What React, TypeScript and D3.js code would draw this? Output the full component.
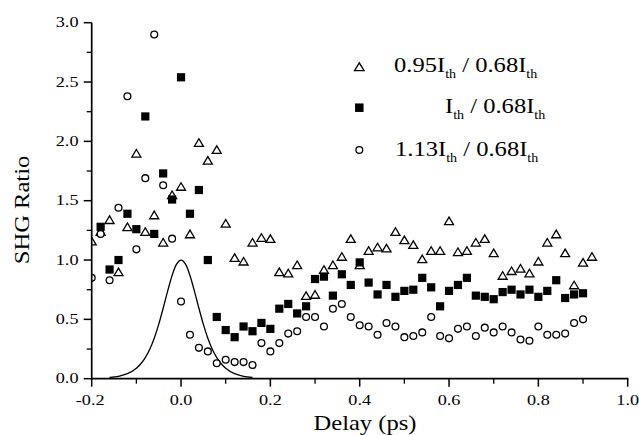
import React from "react";
import * as d3 from "d3";

const DELAY = [
  -0.2, -0.18, -0.16, -0.14, -0.12, -0.1, -0.08, -0.06, -0.04, -0.02,
  0.0, 0.02, 0.04, 0.06, 0.08, 0.1, 0.12, 0.14, 0.16, 0.18,
  0.2, 0.22, 0.24, 0.26, 0.28, 0.3, 0.32, 0.34, 0.36, 0.38,
  0.4, 0.42, 0.44, 0.46, 0.48, 0.5, 0.52, 0.54, 0.56, 0.58,
  0.6, 0.62, 0.64, 0.66, 0.68, 0.7, 0.72, 0.74, 0.76, 0.78,
  0.8, 0.82, 0.84, 0.86, 0.88, 0.9, 0.92,
];

// 0.95Ith / 0.68Ith (open triangles)
const SERIES_TRI: (number | null)[] = [
  1.16, 1.24, 1.34, 0.9, 1.28, 1.9, 1.24, 1.38, 1.15, 1.55,
  1.62, 1.22, 1.99, 1.84, 1.93, 1.31, 1.02, 0.99, 1.15, 1.19,
  1.18, 0.9, 0.89, 0.96, 0.7, 0.71, 0.92, 0.96, 1.03, 1.18,
  0.96, 1.08, 1.11, 1.1, 1.24, 1.17, 1.13, 1.01, 1.08, 1.08,
  1.33, 1.07, 1.08, 1.15, 1.18, 1.06, 0.87, 0.91, 0.93, 0.89,
  0.99, 1.15, 1.22, 1.06, 0.79, 0.98, 1.03,
];

// Ith / 0.68Ith (filled squares)
const SERIES_SQ: (number | null)[] = [
  null, 1.28, 0.92, 1.0, 1.39, 1.26, 2.21, 1.22, 1.73, 1.51,
  2.54, 1.39, 1.59, 1.0, 0.52, 0.41, 0.35, 0.44, 0.4, 0.47,
  0.42, 0.59, 0.63, 0.55, 0.61, 0.84, 0.86, 0.7, 0.88, 0.79,
  0.98, 0.81, 0.71, 0.79, 0.69, 0.74, 0.75, 0.85, 0.77, 0.61,
  0.74, 0.79, 0.85, 0.7, 0.69, 0.67, 0.73, 0.75, 0.71, 0.75,
  0.69, 0.74, 0.83, 0.68, 0.71, 0.72, null,
];

// 1.13Ith / 0.68Ith (open circles)
const SERIES_CIR: (number | null)[] = [
  0.85, 1.22, 0.83, 1.44, 2.38, 1.09, 1.69, 2.9, 1.63, 1.18,
  0.65, 0.37, 0.26, 0.23, 0.13, 0.16, 0.14, 0.14, 0.115, 0.3,
  0.23, 0.3, 0.38, 0.4, 0.52, 0.52, 0.44, 0.59, 0.63, 0.52,
  0.45, 0.44, 0.37, 0.47, 0.44, 0.35, 0.36, 0.39, 0.52, 0.36,
  0.34, 0.42, 0.44, 0.36, 0.43, 0.39, 0.44, 0.39, 0.33, 0.32,
  0.44, 0.37, 0.37, 0.38, 0.47, 0.5, null,
];

// pulse (autocorrelation) curve
const PULSE_X = [
  -0.16, -0.14, -0.12, -0.1, -0.09, -0.08, -0.07, -0.06, -0.05, -0.04, -0.03, -0.02, -0.01,
  0.0, 0.01, 0.02, 0.03, 0.04, 0.05, 0.06, 0.07, 0.08, 0.09, 0.1, 0.12, 0.14, 0.16,
];
const PULSE_Y = [
  0.01, 0.02, 0.042, 0.088, 0.126, 0.178, 0.248, 0.341, 0.458, 0.594, 0.738, 0.87, 0.965,
  1.0, 0.965, 0.87, 0.738, 0.594, 0.458, 0.341, 0.248, 0.178, 0.126, 0.088, 0.042, 0.02, 0.01,
];

const X_MAJOR = [-0.2, 0.0, 0.2, 0.4, 0.6, 0.8, 1.0];
const X_MINOR = [-0.1, 0.1, 0.3, 0.5, 0.7, 0.9];
const X_LABELS = ["-0.2", "0.0", "0.2", "0.4", "0.6", "0.8", "1.0"];
const Y_MAJOR = [0, 0.5, 1.0, 1.5, 2.0, 2.5, 3.0];
const Y_MINOR = [0.25, 0.75, 1.25, 1.75, 2.25, 2.75];
const Y_LABELS = ["0.0", "0.5", "1.0", "1.5", "2.0", "2.5", "3.0"];

const LEGEND = [
  { shape: "tri", pre: "0.95I", post: "0.68I", x: 394 },
  { shape: "sq", pre: "I", post: "0.68I", x: 445 },
  { shape: "cir", pre: "1.13I", post: "0.68I", x: 395 },
];

const FONT = "'Liberation Serif', 'Times New Roman', Times, serif";

function Marker({ shape, x, y, big }: { shape: string; x: number; y: number; big?: boolean }) {
  if (shape === "tri") {
    const w = big ? 9.5 : 9;
    const h = big ? 7.8 : 7.6;
    const p = `M${x - w / 2},${y + h / 2}L${x + w / 2},${y + h / 2}L${x},${y - h / 2}Z`;
    return <path d={p} fill="white" stroke="black" strokeWidth={1.3} strokeLinejoin="miter" />;
  }
  if (shape === "sq") {
    const s = big ? 8.5 : 8.2;
    return <rect x={x - s / 2} y={y - s / 2} width={s} height={s} fill="black" />;
  }
  return <circle cx={x} cy={y} r={3.4} fill="white" stroke="black" strokeWidth={1.3} />;
}

export default function App() {
  const x = d3.scaleLinear().domain([-0.2, 1.0]).range([91.7, 627.7]);
  const y = d3.scaleLinear().domain([0, 3]).range([378.7, 22.7]);
  const x0 = x(-0.2);
  const y0 = y(0);

  const line = d3
    .line<number>()
    .x((_, i) => x(PULSE_X[i]))
    .y((d) => y(d))
    .curve(d3.curveMonotoneX);

  const series: { shape: string; vals: (number | null)[] }[] = [
    { shape: "tri", vals: SERIES_TRI },
    { shape: "sq", vals: SERIES_SQ },
    { shape: "cir", vals: SERIES_CIR },
  ];

  const SX = 1.3;
  const TSX = 1.17;

  return (
    <svg
      width={639}
      height={435}
      style={{ position: "absolute", left: 0, top: 0, background: "white" }}
      fontFamily={FONT}
    >
      <rect x={0} y={0} width={639} height={435} fill="white" />
      <defs>
        <clipPath id="plotclip">
          <rect x={x0} y={0} width={639 - x0} height={y0} />
        </clipPath>
      </defs>

      <g clipPath="url(#plotclip)">
        <path d={line(PULSE_Y) || ""} fill="none" stroke="black" strokeWidth={1.3} />
        {series.map((s) =>
          s.vals.map((v, i) =>
            v == null ? null : (
              <Marker key={s.shape + i} shape={s.shape} x={x(DELAY[i])} y={y(v)} />
            )
          )
        )}
      </g>

      {/* axes */}
      <line x1={x0} x2={x0} y1={y(3)} y2={y0 + 0.8} stroke="black" strokeWidth={1.7} />
      <line x1={x0 - 0.8} x2={x(1.0) + 0.8} y1={y0} y2={y0} stroke="black" strokeWidth={1.7} />

      {Y_MAJOR.map((v) => (
        <line key={"ym" + v} x1={x0 - 8} x2={x0} y1={y(v)} y2={y(v)} stroke="black" strokeWidth={1.5} />
      ))}
      {Y_MINOR.map((v) => (
        <line key={"yn" + v} x1={x0 - 5} x2={x0} y1={y(v)} y2={y(v)} stroke="black" strokeWidth={1.3} />
      ))}
      {X_MAJOR.map((v) => (
        <line key={"xm" + v} x1={x(v)} x2={x(v)} y1={y0} y2={y0 + 8} stroke="black" strokeWidth={1.5} />
      ))}
      {X_MINOR.map((v) => (
        <line key={"xn" + v} x1={x(v)} x2={x(v)} y1={y0} y2={y0 + 5} stroke="black" strokeWidth={1.3} />
      ))}

      {Y_MAJOR.map((v, i) => (
        <text
          key={"yl" + v}
          transform={`translate(78.5,${y(v) + 4.6}) scale(${SX},1)`}
          textAnchor="end"
          fontSize={14}
        >
          {Y_LABELS[i]}
        </text>
      ))}
      {X_MAJOR.map((v, i) => (
        <text
          key={"xl" + v}
          transform={`translate(${x(v) - (i === 0 ? 1.5 : 0)},404.5) scale(${SX},1)`}
          textAnchor="middle"
          fontSize={14}
        >
          {X_LABELS[i]}
        </text>
      ))}

      <text transform={`translate(365,430) scale(${TSX},1)`} textAnchor="middle" fontSize={21}>
        Delay (ps)
      </text>
      <text
        transform={`translate(28.5,210) rotate(-90) scale(${TSX},1)`}
        textAnchor="middle"
        fontSize={21}
      >
        SHG Ratio
      </text>

      {/* legend */}
      {LEGEND.map((l, i) => {
        const cy = [66.7, 107.7, 150][i];
        const base = [71.7, 113.3, 155.5][i];
        return (
          <g key={"lg" + i}>
            <Marker shape={l.shape} x={359.3} y={cy} big />
            <text transform={`translate(${l.x},${base}) scale(1.17,1)`} fontSize={21}>
              {l.pre}
              <tspan fontSize={12} dy={6}>th</tspan>
              <tspan dy={-6}>{" / " + l.post}</tspan>
              <tspan fontSize={12} dy={6}>th</tspan>
            </text>
          </g>
        );
      })}
    </svg>
  );
}
